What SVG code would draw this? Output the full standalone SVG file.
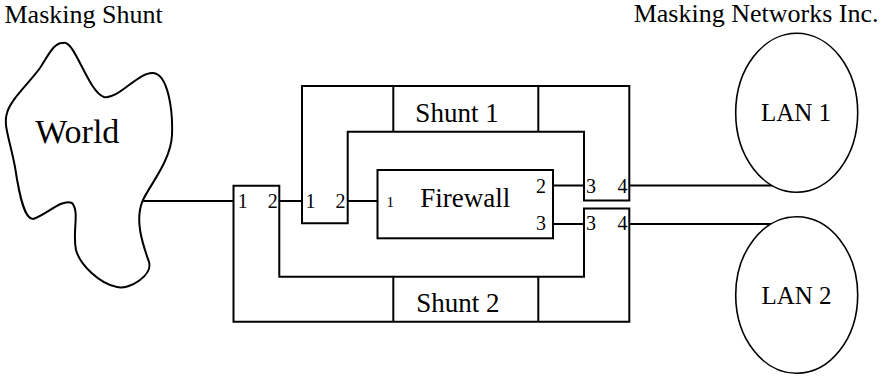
<svg xmlns="http://www.w3.org/2000/svg" width="885" height="377" viewBox="0 0 885 377">
  <style>
    .ln { fill: none; stroke: #000; stroke-width: 2; }
    .box { fill: #fff; stroke: #000; stroke-width: 2; stroke-linejoin: miter; }
    .ell { fill: #fff; stroke: #000; stroke-width: 1.6; }
    text { font-family: "Liberation Serif", "Times New Roman", serif; fill: #000; }
    .hdr { font-size: 26px; }
    .lbl { font-size: 27px; text-anchor: middle; }
    .port { font-size: 20px; }
    .end { text-anchor: end; }
  </style>
  <rect width="885" height="377" fill="#fff"/>

  <g id="titles">
    <text class="hdr" x="4.5" y="23">Masking Shunt</text>
    <text class="hdr end" x="878.5" y="22.3">Masking Networks Inc.</text>
  </g>

  <g id="connectors">
    <line class="ln" x1="142" y1="201" x2="233.5" y2="201"/>
    <line class="ln" x1="279.3" y1="201" x2="302" y2="201"/>
    <line class="ln" x1="347.7" y1="201" x2="378" y2="201"/>
    <line class="ln" x1="553" y1="185.5" x2="584" y2="185.5"/>
    <line class="ln" x1="553" y1="224" x2="584" y2="224"/>
    <line class="ln" x1="629.3" y1="185.5" x2="773" y2="185.5"/>
    <line class="ln" x1="629.3" y1="224" x2="771" y2="224"/>
  </g>

  <g id="world">
    <path class="ln" d="M63,43 C74,38 88,92 104,97 C118,100 138,72 153,73 C168,74 173,110 172,135 C171,160 150,185 143,200 C134,220 143,245 149,262 C153,275 130,290 117,287 C100,284 80,265 76,250 C72,232 80,212 72,203 C62,198 45,216 33,219 C25,219 20,200 15,167 C10,140 3,125 7,113 C10,100 30,82 40,68 C48,56 54,42 63,43 Z"/>
    <text x="77.3" y="143.3" style="font-size:34px;text-anchor:middle">World</text>
  </g>

  <g id="shunt1">
    <path class="box" d="M302,223.3 L302,86 L629.3,86 L629.3,200.5 L584,200.5 L584,131.7 L347.7,131.7 L347.7,223.3 Z"/>
    <line class="ln" x1="393.3" y1="86" x2="393.3" y2="131.7"/>
    <line class="ln" x1="538.3" y1="86" x2="538.3" y2="131.7"/>
    <text class="lbl" x="457" y="122.3">Shunt 1</text>
    <text class="port" x="305.5" y="207.5">1</text>
    <text class="port end" x="345.5" y="207.5">2</text>
    <text class="port" x="586" y="193.3">3</text>
    <text class="port end" x="627.5" y="193.3">4</text>
  </g>

  <g id="shunt2">
    <path class="box" d="M233.5,185.7 L279.3,185.7 L279.3,276.7 L584,276.7 L584,208.5 L629.3,208.5 L629.3,321.7 L233.5,321.7 Z"/>
    <line class="ln" x1="393.3" y1="276.7" x2="393.3" y2="321.7"/>
    <line class="ln" x1="538.3" y1="276.7" x2="538.3" y2="321.7"/>
    <text class="lbl" x="457.8" y="311.7">Shunt 2</text>
    <text class="port" x="237.7" y="207.5">1</text>
    <text class="port end" x="277.8" y="207.5">2</text>
    <text class="port" x="586" y="230.3">3</text>
    <text class="port end" x="627.5" y="230.3">4</text>
  </g>

  <g id="firewall">
    <rect class="box" x="377.5" y="170" width="175.5" height="68.3"/>
    <text class="lbl" x="465.3" y="206.7">Firewall</text>
    <text x="386.5" y="206.7" style="font-size:15px">1</text>
    <text class="port end" x="546" y="193.3">2</text>
    <text class="port end" x="546" y="230">3</text>
  </g>

  <g id="lan1">
    <ellipse class="ell" cx="796.7" cy="112.8" rx="61" ry="79.5"/>
    <text x="796" y="120.7" style="font-size:25px;text-anchor:middle">LAN 1</text>
  </g>

  <g id="lan2">
    <ellipse class="ell" cx="796.7" cy="295" rx="61" ry="78.3"/>
    <text x="796.5" y="304" style="font-size:25px;text-anchor:middle">LAN 2</text>
  </g>
</svg>
